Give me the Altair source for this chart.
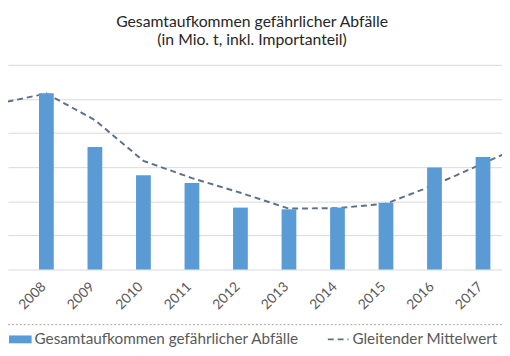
import altair as alt
import pandas as pd

# ---- data ----
years = [2008, 2009, 2010, 2011, 2012, 2013, 2014, 2015, 2016, 2017]
totals = [1.034, 0.718, 0.552, 0.507, 0.363, 0.353, 0.363, 0.392, 0.598, 0.659]

ma_years = [2007, 2008, 2009, 2010, 2011, 2012, 2013, 2014, 2015, 2016, 2017, 2018]
ma_values = [0.972, 1.032, 0.876, 0.637, 0.536, 0.450, 0.357, 0.360, 0.386, 0.496, 0.622, 0.749]

grid_values = [0, 0.2, 0.4, 0.6, 0.8, 1.0, 1.2]

title_lines = ["Gesamtaufkommen gefährlicher Abfälle", "(in Mio. t, inkl. Importanteil)"]
legend_labels = ["Gesamtaufkommen gefährlicher Abfälle", "Gleitender Mittelwert"]

FONT = "Lato"
BAR = "#5B9BD5"
LINE = "#5d7189"

bars_df = pd.DataFrame({"Jahr": years, "Wert": totals})
ma_df = pd.DataFrame({"Jahr": ma_years, "Mittelwert": ma_values})

W, H = 502, 208

xscale = alt.Scale(domain=[2007.31, 2017.29], nice=False, zero=False)
yscale = alt.Scale(domain=[0, 1.2], nice=False, zero=True)

xaxis = alt.Axis(
    values=years, format="d", title=None, labelAngle=-45, labelAlign="right",
    labelBaseline="middle", labelPadding=15, labelOffset=-3, ticks=False, domain=False, grid=False,
    labelFont=FONT, labelFontSize=14, labelColor="#595959",
)
yaxis = alt.Axis(
    values=grid_values, labels=False, ticks=False, domain=False, title=None,
    grid=True, gridColor="#d9d9d9", gridWidth=1,
)

line = alt.Chart(ma_df).mark_line(
    clip=True, strokeDash=[6, 4], strokeWidth=2, color=LINE
).encode(
    x=alt.X("Jahr:Q", scale=xscale, axis=xaxis),
    y=alt.Y("Mittelwert:Q", scale=yscale, axis=yaxis),
)

bars = alt.Chart(bars_df).mark_bar(size=15, color=BAR).encode(
    x=alt.X("Jahr:Q", scale=xscale, axis=xaxis),
    y=alt.Y("Wert:Q", scale=yscale, axis=yaxis),
)

one = alt.Data(values=[{}])

t1 = alt.Chart(one).mark_text(
    text=title_lines[0], font=FONT, fontSize=16, color="#262626", align="center", baseline="alphabetic"
).encode(x=alt.value(248), y=alt.value(-38.5))
t2 = alt.Chart(one).mark_text(
    text=title_lines[1], font=FONT, fontSize=16, color="#262626", align="center", baseline="alphabetic"
).encode(x=alt.value(248), y=alt.value(-20.5))

LY = 279
leg_rect = alt.Chart(one).mark_rect(color=BAR).encode(
    x=alt.value(1), x2=alt.value(24), y=alt.value(LY - 4), y2=alt.value(LY + 4)
)
leg_line = alt.Chart(one).mark_rule(color=LINE, strokeWidth=2, strokeDash=[6, 4]).encode(
    x=alt.value(325), x2=alt.value(346), y=alt.value(LY), y2=alt.value(LY)
)
leg_t1 = alt.Chart(one).mark_text(
    text=legend_labels[0], font=FONT, fontSize=15.5, color="#595959", align="left", baseline="middle"
).encode(x=alt.value(27), y=alt.value(LY))
leg_t2 = alt.Chart(one).mark_text(
    text=legend_labels[1], font=FONT, fontSize=15.5, color="#595959", align="left", baseline="middle"
).encode(x=alt.value(350), y=alt.value(LY))

dot_top = alt.Chart(one).mark_rule(color="#a6a6a6", strokeWidth=1, strokeDash=[2, 2]).encode(
    x=alt.value(0), x2=alt.value(502), y=alt.value(LY - 15), y2=alt.value(LY - 15)
)
dot_bot = alt.Chart(one).mark_rule(color="#a6a6a6", strokeWidth=1, strokeDash=[2, 2]).encode(
    x=alt.value(0), x2=alt.value(502), y=alt.value(LY + 14), y2=alt.value(LY + 14)
)

chart = alt.layer(
    line, bars, t1, t2, dot_top, dot_bot, leg_rect, leg_line, leg_t1, leg_t2
).properties(
    width=W, height=H,
    background="white",
    autosize=alt.AutoSizeParams(type="none"),
    padding={"left": 0, "top": 55, "right": 0, "bottom": 77},
).configure_view(stroke=None)

chart.save("out.html", embed_options={"renderer": "svg", "actions": False})
